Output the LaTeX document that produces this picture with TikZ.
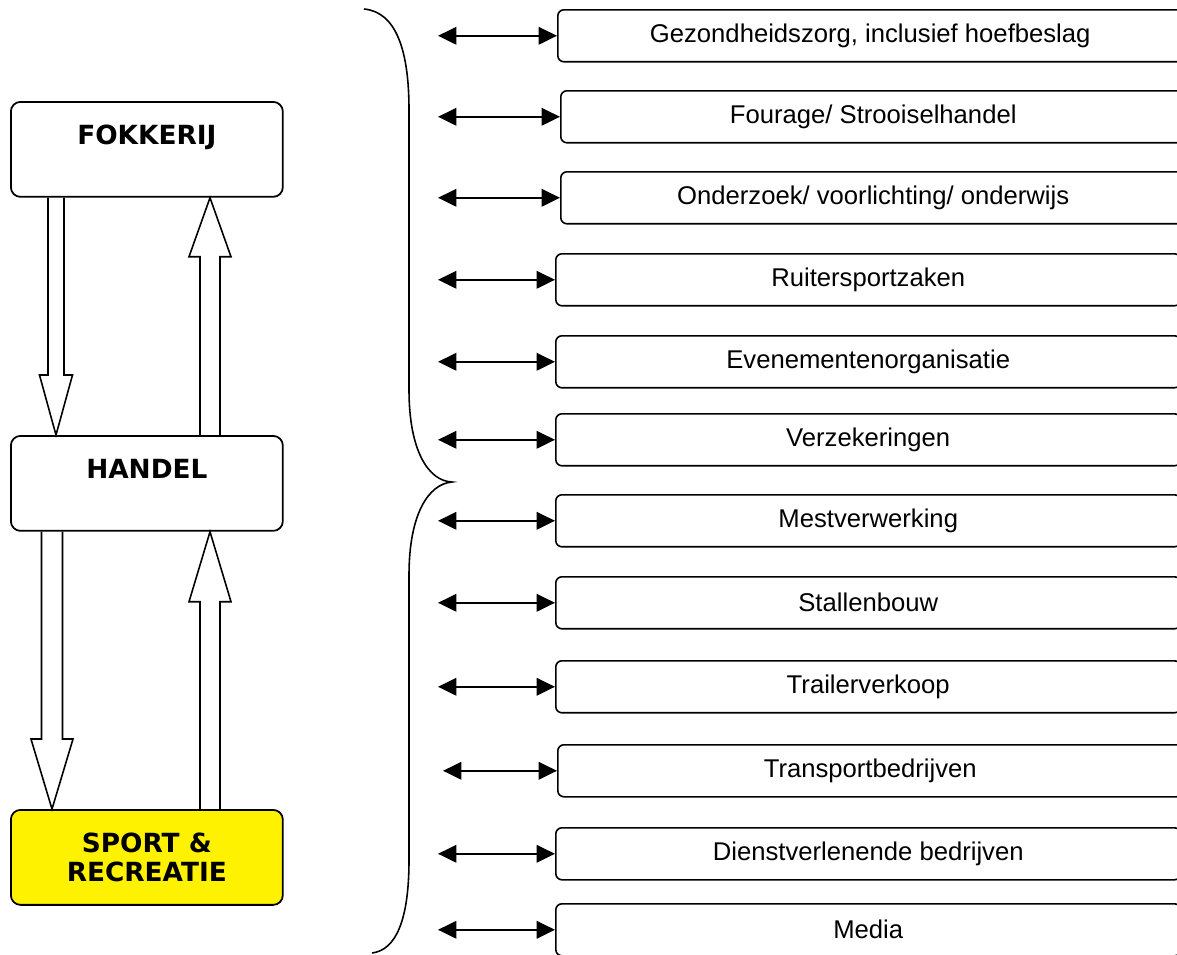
\documentclass[tikz,border=0pt]{standalone}
\usepackage{fontspec}
\setmainfont{Liberation Sans}
\newfontfamily\verdana{DejaVu Sans}
\usepackage{xcolor}
\usepackage{tikz}
\usetikzlibrary{arrows.meta,calc}

\tikzset{
  mainbox/.style={draw, line width=1pt, rounded corners=5.5pt, minimum width=5.44cm, minimum height=1.9cm,
    anchor=north west, align=center, inner sep=0pt, font=\verdana\bfseries\fontsize{15pt}{17pt}\selectfont},
  sidebox/.style={draw, line width=0.9pt, rounded corners=3.5pt, minimum width=12.5cm, minimum height=1.04cm,
    anchor=north west, inner sep=0pt, font=\fontsize{14.6pt}{17pt}\selectfont},
  dblarrow/.style={line width=1.1pt, {Triangle[length=10.5pt,width=10pt]}-{Triangle[length=10.5pt,width=10pt]}},
  fatarr/.style={line width=0.9pt, line join=miter},
  brace/.style={line width=0.9pt}
}

% block arrows: from, to, x coordinate, half shaft, half head, head length
\newcommand{\fatdown}[6]{%
  \draw[fatarr] ($(#1.south -| #3)+(-#4,0)$) -- ($(#2.north -| #3)+(-#4,-#6)$) -- ($(#2.north -| #3)+(-#5,-#6)$)
    -- (#2.north -| #3) -- ($(#2.north -| #3)+(#5,-#6)$) -- ($(#2.north -| #3)+(#4,-#6)$) -- ($(#1.south -| #3)+(#4,0)$);}
\newcommand{\fatup}[6]{%
  \draw[fatarr] ($(#1.north -| #3)+(-#4,0)$) -- ($(#2.south -| #3)+(-#4,#6)$) -- ($(#2.south -| #3)+(-#5,#6)$)
    -- (#2.south -| #3) -- ($(#2.south -| #3)+(#5,#6)$) -- ($(#2.south -| #3)+(#4,#6)$) -- ($(#1.north -| #3)+(#4,0)$);}

\begin{document}
\begin{tikzpicture}[x=0.02cm, y=-0.02cm]
\useasboundingbox (0,0) rectangle (1177,954);
\clip (0,0) rectangle (1177,954);

% left column
\node[mainbox] (fok) at (10,101) {FOKKERIJ\\\mbox{}};
\node[mainbox] (han) at (10,435) {HANDEL\\\mbox{}};
\node[mainbox, fill=yellow] (spo) at (10,809) {SPORT \&\\RECREATIE};

\coordinate (xa) at (56,0);
\coordinate (xb) at (210,0);
\coordinate (xc) at (52,0);

\fatdown{fok}{han}{xa}{8}{16.5}{60}
\fatup{han}{fok}{xb}{10}{21}{59}
\fatdown{han}{spo}{xc}{10.5}{21}{70}
\fatup{spo}{han}{xb}{10}{21}{70}

% brace
\draw[brace] (364,9) .. controls (396,12) and (409,50) .. (409,110) -- (409,390)
  .. controls (409,450) and (428,481) .. (452,482)
  .. controls (428,484) and (409,515) .. (409,575) -- (409,860)
  .. controls (409,920) and (396,950) .. (372,953);

% right column
\node[sidebox] (b1) at (557,9) {Gezondheidszorg, inclusief hoefbeslag};
\node[sidebox] (b2) at (560,90) {Fourage/ Strooiselhandel};
\node[sidebox] (b3) at (560,171) {Onderzoek/ voorlichting/ onderwijs};
\node[sidebox] (b4) at (555,253) {Ruitersportzaken};
\node[sidebox] (b5) at (555,335) {Evenementenorganisatie};
\node[sidebox] (b6) at (555,413) {Verzekeringen};
\node[sidebox] (b7) at (555,494) {Mestverwerking};
\node[sidebox] (b8) at (555,576) {Stallenbouw};
\node[sidebox] (b9) at (555,660) {Trailerverkoop};
\node[sidebox] (b10) at (557,744) {Transportbedrijven};
\node[sidebox] (b11) at (555,827) {Dienstverlenende bedrijven};
\node[sidebox] (b12) at (555,903) {Media};

\coordinate (lx) at (438,0);
\coordinate (lx2) at (443,0);

\draw[dblarrow] (b1.west -| lx) -- (b1.west);
\draw[dblarrow] (b2.west -| lx) -- (b2.west);
\draw[dblarrow] (b3.west -| lx) -- (b3.west);
\draw[dblarrow] (b4.west -| lx) -- (b4.west);
\draw[dblarrow] (b5.west -| lx) -- (b5.west);
\draw[dblarrow] (b6.west -| lx) -- (b6.west);
\draw[dblarrow] (b7.west -| lx) -- (b7.west);
\draw[dblarrow] (b8.west -| lx) -- (b8.west);
\draw[dblarrow] (b9.west -| lx) -- (b9.west);
\draw[dblarrow] (b10.west -| lx2) -- (b10.west);
\draw[dblarrow] (b11.west -| lx) -- (b11.west);
\draw[dblarrow] (b12.west -| lx) -- (b12.west);
\end{tikzpicture}
\end{document}
